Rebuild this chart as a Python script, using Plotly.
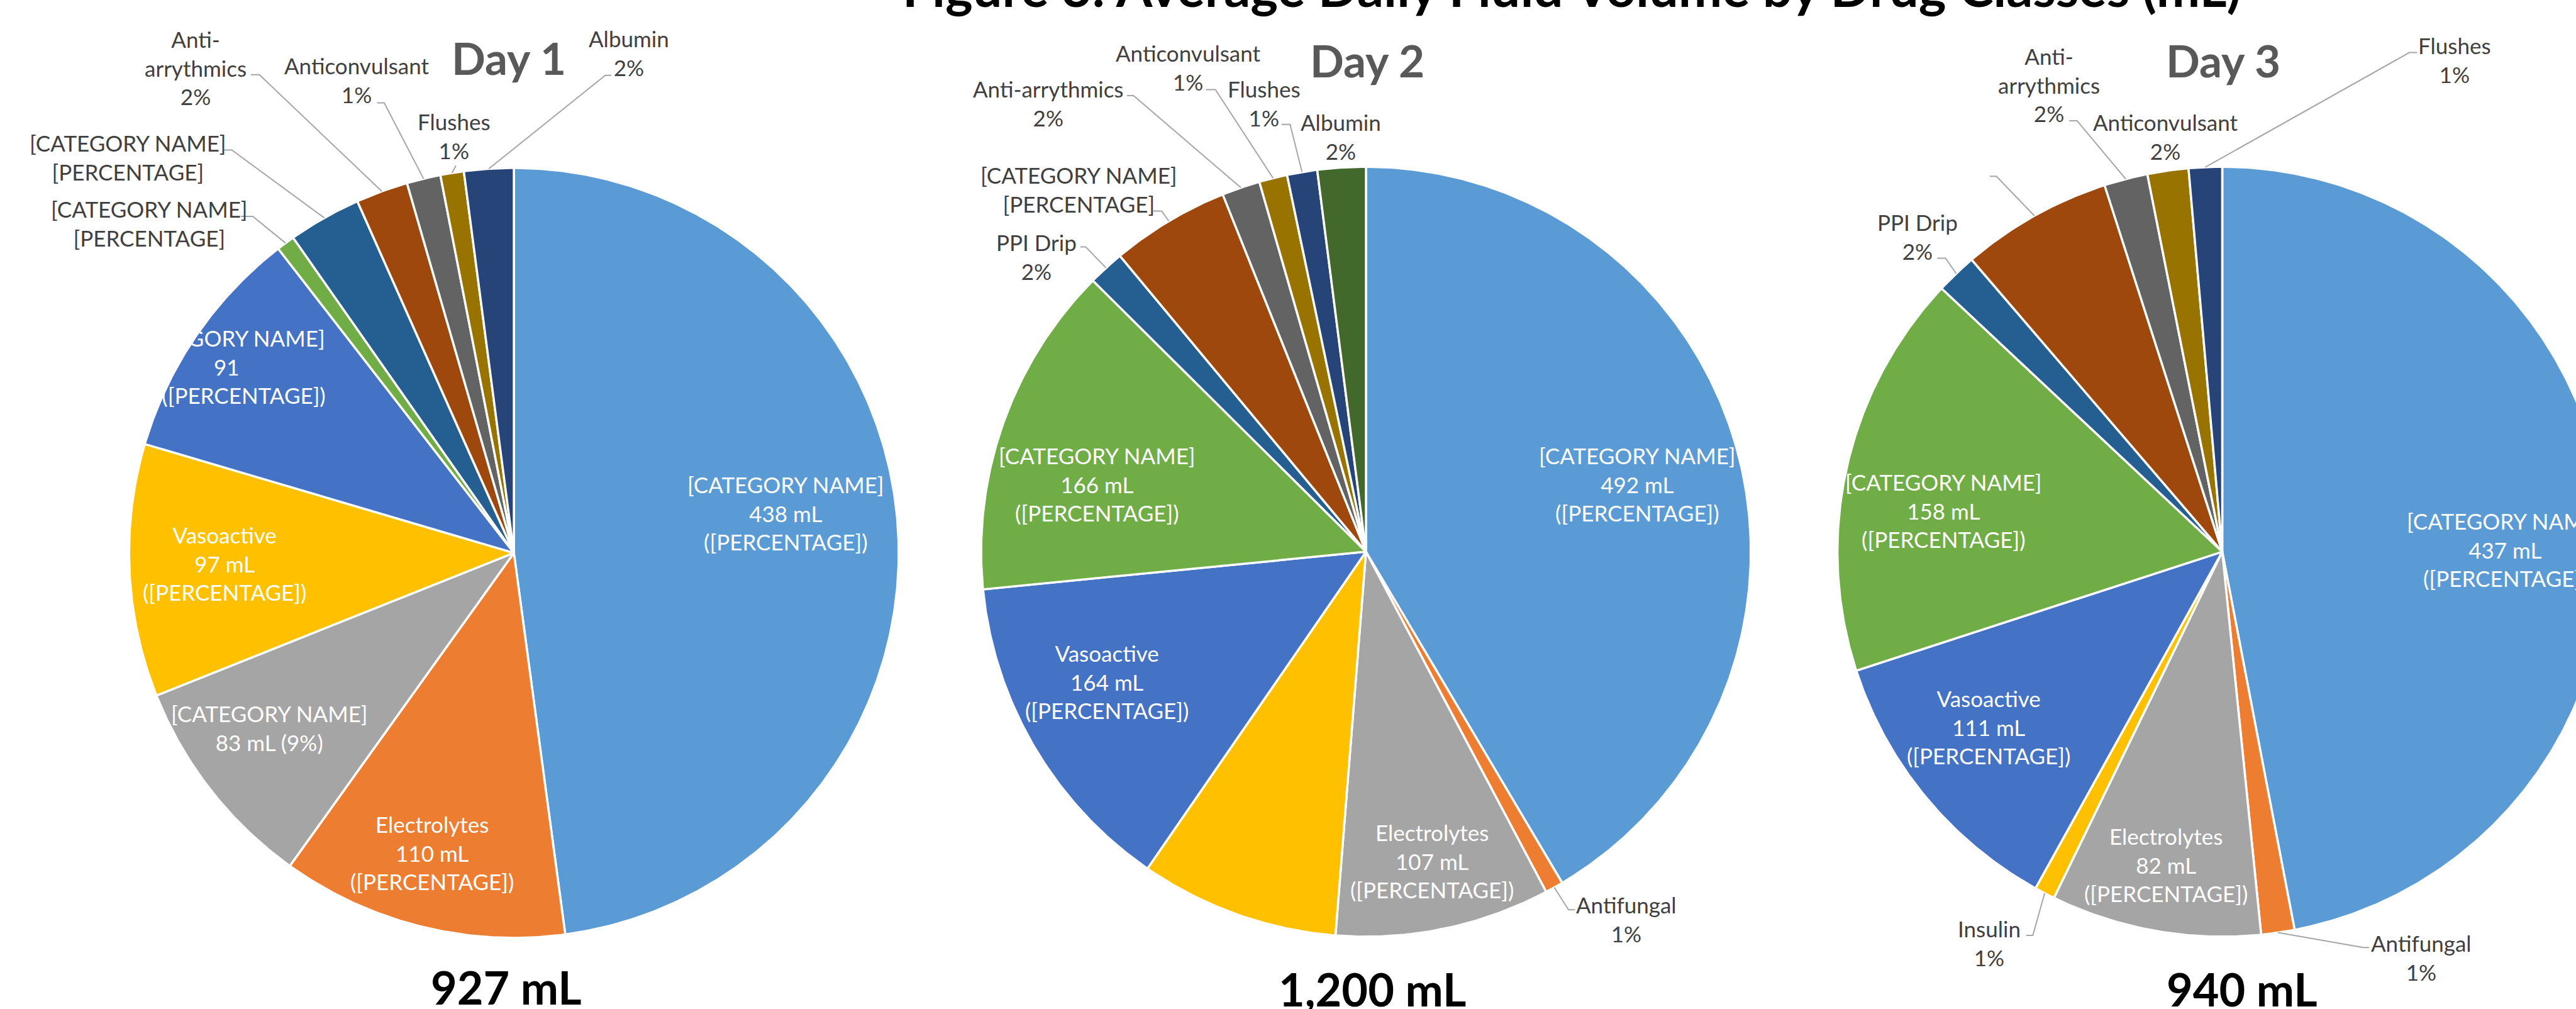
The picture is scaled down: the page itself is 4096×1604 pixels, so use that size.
import numpy as np
import plotly.graph_objects as go

# ---------------- data ----------------
main_title = "Figure 3: Average Daily Fluid Volume by Drug Classes (mL)"
day_titles = ["Day 1", "Day 2", "Day 3"]
day_totals = ["927 mL", "1,200 mL", "940 mL"]

slice_colors = ["#5B9BD5", "#ED7D31", "#A5A5A5", "#FFC000", "#4472C4", "#70AD47",
                "#255E91", "#9E480E", "#636363", "#997300", "#264478", "#43682B"]

day1_names = ["[CATEGORY NAME]", "Electrolytes", "[CATEGORY NAME]", "Vasoactive",
              "[CATEGORY NAME]", "[CATEGORY NAME]", "[CATEGORY NAME]", "Anti-<br>arrythmics",
              "Anticonvulsant", "Flushes", "Albumin"]
day1_values = [438, 110, 83, 97, 91, 7, 28, 20, 13, 9, 19]
day1_formats = ["vol_ph", "vol_ph", "vol_pct", "vol_ph", "split", "ph", "ph",
                "pct", "pct", "pct", "pct"]

day2_names = ["[CATEGORY NAME]", "Antifungal", "Electrolytes", "", "Vasoactive",
              "[CATEGORY NAME]", "PPI Drip", "[CATEGORY NAME]", "Anti-arrythmics",
              "Anticonvulsant", "Flushes", "Albumin"]
day2_values = [492, 9, 107, 99, 164, 166, 18, 59, 19, 14, 15, 24]
day2_formats = ["vol_ph", "pct", "vol_ph", "none", "vol_ph", "vol_ph", "pct", "ph",
                "pct", "pct", "pct", "pct"]

day3_names = ["[CATEGORY NAME]", "Antifungal", "Electrolytes", "Insulin", "Vasoactive",
              "[CATEGORY NAME]", "PPI Drip", "", "Anti-<br>arrythmics", "Anticonvulsant",
              "Flushes"]
day3_values = [437, 13, 82, 8, 111, 158, 16, 59, 17, 16, 13]
day3_formats = ["vol_ph", "pct", "vol_ph", "pct", "vol_ph", "vol_ph", "pct", "blank",
                "pct", "pct", "pct"]

# ---------------- layout (reference-pixel space) ----------------
REF_W, REF_H = 4311, 1688
W, H = 4096, 1604
FONT = "Lato"

centers = [(860, 925), (2286, 923), (3719, 923)]
RADIUS = 644

# per slice: (kind, x, y, leader) ; leader = (sx, sy, tx) start point and tick end
day1_layout = [
    ("in", 1315, 858, None), ("in", 723, 1426, None), ("in", 451, 1218, None),
    ("in", 376, 942, None), ("in", 379, 613, None),
    ("out", 250, 374, (403, 362, 423)), ("out", 214, 263, (375, 251, 388)),
    ("out", 327, 113, (420, 125, 434)), ("out", 597, 134, (631, 172, 643)),
    ("out", 760, 227, (763, 277, 763)), ("out", 1052, 88, (1023, 126, 1013)),
]
day2_layout = [
    ("in", 2740, 810, None), ("out", 2722, 1537, (2636, 1522, 2625)),
    ("in", 2396, 1440, None), ("none", 0, 0, None), ("in", 1852, 1140, None),
    ("in", 1836, 810, None), ("out", 1735, 429, (1808, 413, 1817)),
    ("out", 1806, 317, (1930, 353, 1944)), ("out", 1754, 173, (1886, 160, 1897)),
    ("out", 1989, 113, (2018, 150, 2034)), ("out", 2116, 173, (2145, 208, 2159)),
    ("out", 2244, 228, None),
]
day3_layout = [
    ("in", 4193, 919, None), ("out", 4052, 1602, (3965, 1585, 3955)),
    ("in", 3625, 1447, None), ("out", 3329, 1578, (3391, 1565, 3402)),
    ("in", 3328, 1216, None), ("in", 3253, 854, None),
    ("out", 3209, 396, (3242, 432, 3256)), ("out", 0, 0, (3330, 295, 3341)),
    ("out", 3429, 142, (3463, 202, 3476)), ("out", 3624, 228, None),
    ("out", 4108, 100, (4045, 88, 4032)),
]
day_title_pos = [(851, 96), (2288, 101), (3721, 101)]
total_pos = [(847, 1651), (2297, 1654), (3752, 1654)]
main_title_pos = (2630, -22)   # vertical centre above the top edge (title is cropped)

LABEL_SIZE = 35
DAY_SIZE = 71
TOTAL_SIZE = 72
TITLE_SIZE = 83


def label_text(name, value, fmt, total):
    pct = int(round(value / total * 100))
    if fmt == "vol_ph":
        return f"{name}<br>{value} mL<br>([PERCENTAGE])"
    if fmt == "vol_pct":
        return f"{name}<br>{value} mL ({pct}%)"
    if fmt == "split":
        return f"{name}<br>{value}<br>mL ([PERCENTAGE])"
    if fmt == "ph":
        return f"{name}<br>[PERCENTAGE]"
    if fmt == "pct":
        return f"{name}<br>{pct}%"
    return ""


fig = go.Figure()
annotations = []

days = [
    (day1_names, day1_values, day1_formats, day1_layout),
    (day2_names, day2_values, day2_formats, day2_layout),
    (day3_names, day3_values, day3_formats, day3_layout),
]

for d, (names, values, fmts, lay) in enumerate(days):
    cx, cy = centers[d]
    total = float(sum(values))
    cum = np.concatenate([[0.0], np.cumsum(values)]) / total * 2 * np.pi
    # wedges
    for i, v in enumerate(values):
        a0, a1 = cum[i], cum[i + 1]
        n = max(4, int((a1 - a0) / (2 * np.pi) * 720))
        t = np.linspace(a0, a1, n)
        xs = np.concatenate([[cx], cx + RADIUS * np.sin(t), [cx]])
        ys = np.concatenate([[cy], cy - RADIUS * np.cos(t), [cy]])
        fig.add_trace(go.Scatter(
            x=xs, y=ys, mode="lines", fill="toself",
            fillcolor=slice_colors[i],
            line=dict(color="white", width=3.5),
            hoverinfo="skip", showlegend=False,
        ))
    # labels and leader lines
    for i, v in enumerate(values):
        kind, lx, ly, leader = lay[i]
        if kind == "none":
            continue
        mid = (cum[i] + cum[i + 1]) / 2
        if leader is not None:
            sx, sy, tx = leader
            ex = cx + RADIUS * np.sin(mid)
            ey = cy - RADIUS * np.cos(mid)
            fig.add_trace(go.Scatter(
                x=[sx, tx, ex], y=[sy, sy, ey], mode="lines",
                line=dict(color="#A6A6A6", width=2),
                hoverinfo="skip", showlegend=False,
            ))
        txt = label_text(names[i], v, fmts[i], total)
        if txt:
            annotations.append(dict(
                x=lx, y=ly, xref="x", yref="y", text=txt, showarrow=False,
                xanchor="center", yanchor="middle", align="center",
                font=dict(family=FONT, size=LABEL_SIZE,
                          color="white" if kind == "in" else "#404040"),
            ))
    # day titles and totals
    tx_, ty_ = day_title_pos[d]
    annotations.append(dict(
        x=tx_, y=ty_, xref="x", yref="y", text=day_titles[d], showarrow=False,
        xanchor="center", yanchor="middle",
        font=dict(family=FONT, size=DAY_SIZE, color="#595959", weight="bold"),
    ))
    ox, oy = total_pos[d]
    annotations.append(dict(
        x=ox, y=oy, xref="x", yref="y", text=day_totals[d], showarrow=False,
        xanchor="center", yanchor="middle",
        font=dict(family=FONT, size=TOTAL_SIZE, color="black", weight="bold"),
    ))

# main title (paper coordinates so that it may sit partly above the top edge)
annotations.append(dict(
    x=main_title_pos[0] / REF_W, y=1 - main_title_pos[1] / REF_H,
    xref="paper", yref="paper", text=main_title,
    showarrow=False, xanchor="center", yanchor="middle",
    font=dict(family=FONT, size=TITLE_SIZE, color="black", weight="bold"),
))

fig.update_layout(
    width=W, height=H,
    margin=dict(l=0, r=0, t=0, b=0),
    paper_bgcolor="white", plot_bgcolor="white",
    xaxis=dict(range=[0, REF_W], visible=False, fixedrange=True),
    yaxis=dict(range=[REF_H, 0], visible=False, fixedrange=True),
    annotations=annotations,
    showlegend=False,
)

fig.write_html("out.html")
